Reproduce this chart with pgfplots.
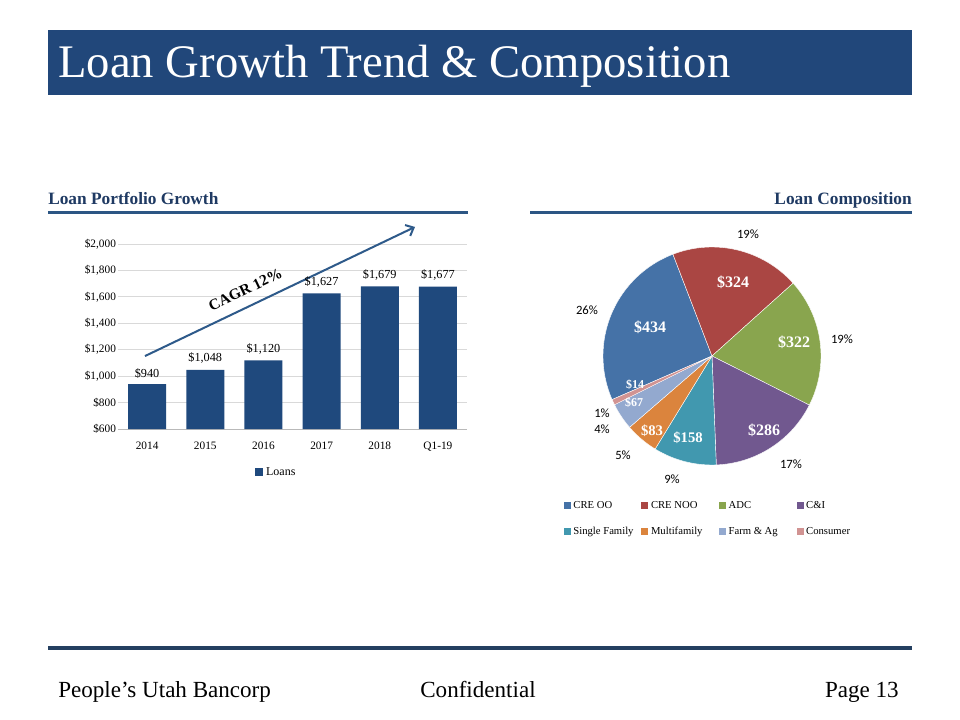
\documentclass[border=0pt]{standalone}
\usepackage{pgfplots}
\pgfplotsset{compat=1.18}
\usepackage{fontspec}
\setmainfont{Liberation Serif}
\newfontfamily\calibri{Carlito}
\usetikzlibrary{arrows.meta}
\definecolor{banner}{HTML}{21477A}
\definecolor{barblue}{HTML}{1F497D}
\definecolor{headblue}{HTML}{1F3A63}
\definecolor{ruleblue}{HTML}{2C5684}
\definecolor{footrule}{HTML}{243F60}
\definecolor{arrowblue}{HTML}{2E5A8A}
\definecolor{cblue}{HTML}{4572A7}
\definecolor{cred}{HTML}{AA4643}
\definecolor{cgreen}{HTML}{89A54E}
\definecolor{cpurple}{HTML}{71588F}
\definecolor{cteal}{HTML}{4198AF}
\definecolor{corange}{HTML}{DB843D}
\definecolor{clblue}{HTML}{93A9CF}
\definecolor{cpink}{HTML}{D19392}
\begin{document}
\begin{tikzpicture}
% page
\fill[white] (0pt,0pt) rectangle (720pt,-540pt);
% title banner
\fill[banner] (36pt,-22.5pt) rectangle (684pt,-71.25pt);
\node[anchor=base west, inner sep=0pt, text=white, font=\fontsize{35}{40}\selectfont] at (43.5pt,-58.5pt) {Loan Growth Trend \& Composition};
% section headings
\node[anchor=base west, inner sep=0pt, text=headblue, font=\bfseries\fontsize{13}{15}\selectfont] at (36pt,-153.75pt) {Loan Portfolio Growth};
\node[anchor=base east, inner sep=0pt, text=headblue, font=\bfseries\fontsize{13}{15}\selectfont] at (684pt,-153.75pt) {Loan Composition};
\draw[ruleblue, line width=2.25pt] (36pt,-159.75pt) -- (351pt,-159.75pt);
\draw[ruleblue, line width=2.25pt] (397.5pt,-159.75pt) -- (684pt,-159.75pt);
% footer
\draw[footrule, line width=3pt] (36pt,-486pt) -- (684pt,-486pt);
\node[anchor=base west, inner sep=0pt, font=\fontsize{17.3}{20}\selectfont] at (43.5pt,-522.75pt) {People’s Utah Bancorp};
\node[anchor=base, inner sep=0pt, font=\fontsize{17.3}{20}\selectfont] at (358.5pt,-522.75pt) {Confidential};
\node[anchor=base east, inner sep=0pt, font=\fontsize{17.3}{20}\selectfont] at (674.25pt,-522.75pt) {Page 13};

% ---------------- bar chart ----------------
\begin{axis}[
  at={(88.5pt,-321.75pt)}, anchor=south west,
  scale only axis, width=261.75pt, height=138.75pt,
  xmin=-0.5, xmax=5.5, ymin=600, ymax=2000,
  ytick={600,800,...,2000},
  xtick=data, xticklabels={2014,2015,2016,2017,2018,Q1-19},
  ybar, bar width=28.5pt,
  ymajorgrids, grid style={draw=gray!30, line width=0.6pt},
  axis x line*=bottom, axis y line*=left,
  y axis line style={draw=none},
  x axis line style={draw=gray!55, line width=0.6pt},
  tick style={draw=none},
  /pgf/number format/1000 sep={,},
  /pgf/number format/assume math mode=true,
  yticklabel={\$\pgfmathprintnumber{\tick}},
  tick label style={font=\fontsize{8.5}{10}\selectfont},
  yticklabel style={xshift=2pt},
  xticklabel style={yshift=-2pt},
  nodes near coords={\$\pgfmathprintnumber{\pgfplotspointmeta}},
  nodes near coords style={font=\fontsize{9.2}{10}\selectfont, text=black, yshift=1pt},
  clip=false,
  legend style={at={(0.455,-0.235)}, anchor=center, draw=none, font=\fontsize{9}{10}\selectfont},
  legend image code/.code={\fill[#1] (0pt,-3pt) rectangle (6pt,3pt);},
]
\addplot[fill=barblue, draw=none] coordinates {(0,940) (1,1048) (2,1120) (3,1627) (4,1679) (5,1677)};
\addlegendentry{Loans}
\draw[arrowblue, line width=1.5pt, -{Straight Barb[length=5pt,width=9pt]}] (axis cs:-0.036,1152) -- (axis cs:4.606,2129);
\node[rotate=25.5, font=\bfseries\fontsize{11.5}{12}\selectfont] at (axis cs:1.69,1655) {CAGR 12\%};
\end{axis}

% ---------------- pie chart ----------------
\begin{axis}[
  at={(534pt,-267pt)}, anchor=center,
  x=81.75pt, y=81.75pt,
  xmin=-1.3, xmax=1.3, ymin=-1.3, ymax=1.3,
  hide axis, clip=false,
  legend columns=4,
  legend cell align=left,
  legend style={at={(-0.038,0.008)}, anchor=north west, draw=none, fill=none,
    font=\fontsize{8}{9}\selectfont, row sep=8.5pt,
    /tikz/every even column/.style={column sep=0pt}},
  legend image code/.code={\fill[#1] (0pt,-2.6pt) rectangle (5.2pt,2.6pt);},
]
\addlegendimage{fill=cblue,draw=none}\addlegendentry{\makebox[49pt][l]{CRE OO}}
\addlegendimage{fill=cred,draw=none}\addlegendentry{\makebox[49pt][l]{CRE NOO}}
\addlegendimage{fill=cgreen,draw=none}\addlegendentry{\makebox[49pt][l]{ADC}}
\addlegendimage{fill=cpurple,draw=none}\addlegendentry{\makebox[49pt][l]{C\&I}}
\addlegendimage{fill=cteal,draw=none}\addlegendentry{\makebox[49pt][l]{Single Family}}
\addlegendimage{fill=corange,draw=none}\addlegendentry{\makebox[49pt][l]{Multifamily}}
\addlegendimage{fill=clblue,draw=none}\addlegendentry{\makebox[49pt][l]{Farm \& Ag}}
\addlegendimage{fill=cpink,draw=none}\addlegendentry{\makebox[49pt][l]{Consumer}}
\gdef\cum{203.56}
\foreach \v/\c in {434/cblue,324/cred,322/cgreen,286/cpurple,158/cteal,83/corange,67/clblue,14/cpink}{
  \pgfmathsetmacro{\endang}{\cum-(\v/1688)*360}
  \edef\temp{\noexpand\fill[\c, draw=white, line width=0.3pt] (axis cs:0,0) -- ++(\cum:81.75pt) arc[start angle=\cum, end angle=\endang, radius=81.75pt] -- cycle;}
  \temp
  \xdef\cum{\endang}
}
\end{axis}
% pie value labels
\begin{scope}[every node/.style={text=white, font=\bfseries\fontsize{12}{13}\selectfont, inner sep=0pt}]
\node at (549.75pt,-211.5pt) {\$324};
\node at (595.5pt,-256.5pt) {\$322};
\node at (487.5pt,-245.25pt) {\$434};
\node at (573pt,-322.5pt) {\$286};
\node[font=\bfseries\fontsize{11}{12}\selectfont] at (516pt,-328.5pt) {\$158};
\node[font=\bfseries\fontsize{11}{12}\selectfont] at (489pt,-323.25pt) {\$83};
\node[font=\bfseries\fontsize{9}{10}\selectfont] at (475.5pt,-302.25pt) {\$67};
\node[font=\bfseries\fontsize{9}{10}\selectfont] at (476.25pt,-288.75pt) {\$14};
\end{scope}
% pie percent labels
\begin{scope}[every node/.style={text=black, font=\calibri\fontsize{9.5}{11}\selectfont, inner sep=0pt}]
\node at (561pt,-175.5pt) {19\%};
\node at (631.5pt,-254.25pt) {19\%};
\node at (593.25pt,-348pt) {17\%};
\node at (504pt,-359.25pt) {9\%};
\node at (467.25pt,-341.25pt) {5\%};
\node at (451.5pt,-321.75pt) {4\%};
\node at (451.5pt,-309.75pt) {1\%};
\node at (440.25pt,-232.5pt) {26\%};
\end{scope}
\end{tikzpicture}
\end{document}
